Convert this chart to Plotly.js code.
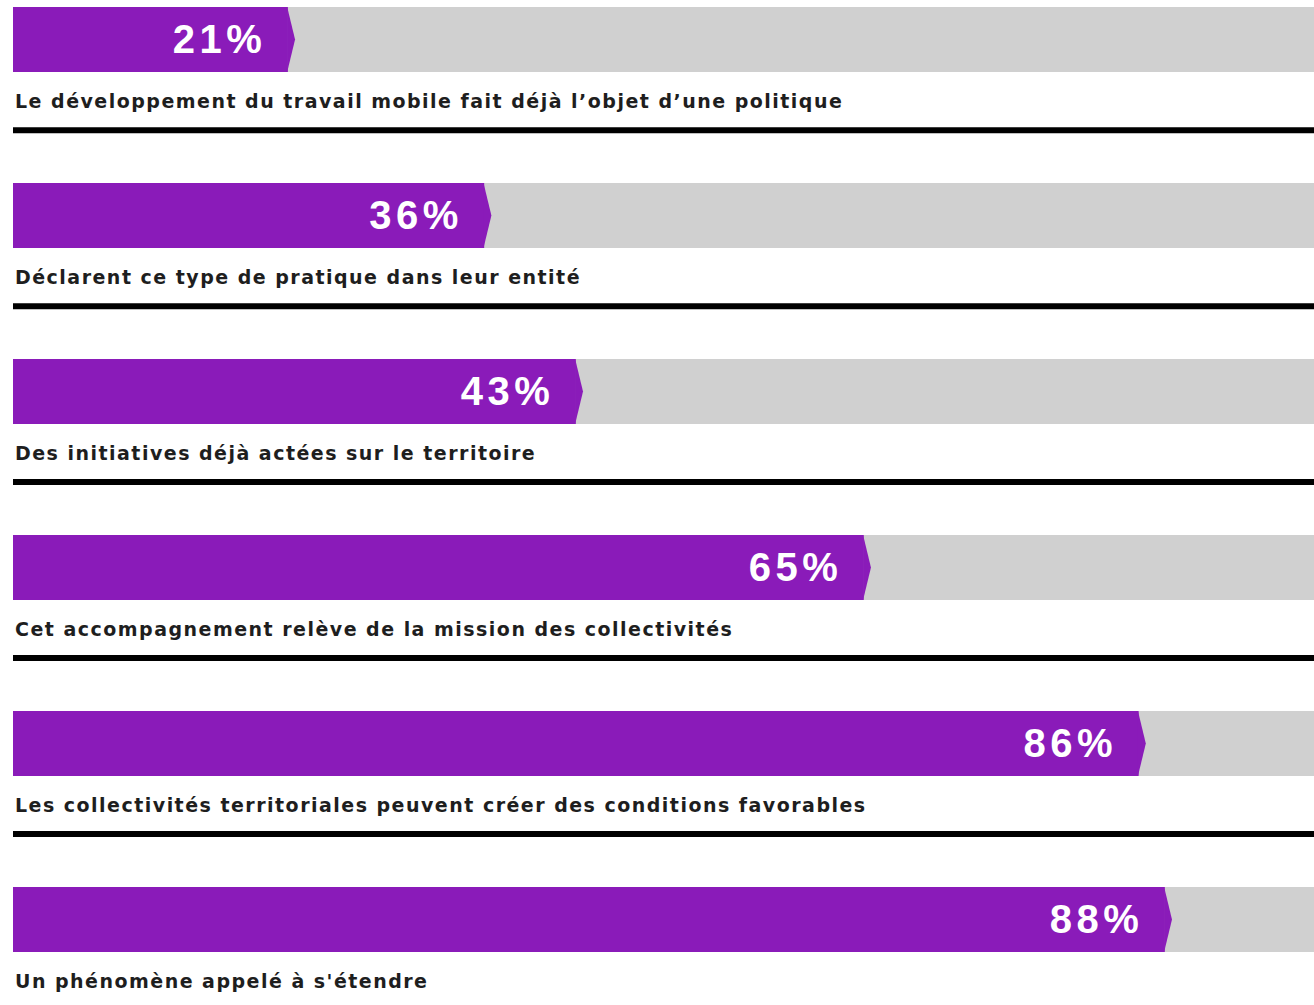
<!DOCTYPE html>
<html>
<head>
<meta charset="utf-8">
<script src="https://cdn.plot.ly/plotly-3.0.1.min.js"></script>
<style>
html,body{margin:0;padding:0;background:#fff;}
#chart{width:1314px;height:1005px;}
</style>
</head>
<body>
<div id="chart"></div>
<script>
const labels = [
  "Le développement du travail mobile fait déjà l’objet d’une politique",
  "Déclarent ce type de pratique dans leur entité",
  "Des initiatives déjà actées sur le territoire",
  "Cet accompagnement relève de la mission des collectivités",
  "Les collectivités territoriales peuvent créer des conditions favorables",
  "Un phénomène appelé à s'étendre"
];
const values = [21, 36, 43, 65, 86, 88];
const totals = [100, 100, 100, 100, 100, 100];

const purple = "#8A1BB9";
const gray = "#D0D0D0";
const rows = values.map((v, i) => i);
const barH = 0.37;
const tipW = 0.55;

const traces = [
  {type: "bar", orientation: "h", x: totals, y: rows, width: barH,
   marker: {color: gray}, hoverinfo: "skip"},
  {type: "bar", orientation: "h", x: values, y: rows, width: barH,
   marker: {color: purple}, hoverinfo: "skip"}
];

const shapes = [];
values.forEach((v, i) => {
  shapes.push({type: "path", xref: "x", yref: "y",
    path: `M ${v - 0.05} ${i - barH/2} L ${v + tipW} ${i} L ${v - 0.05} ${i + barH/2} Z`,
    fillcolor: purple, line: {width: 0}});
  if (i < values.length - 1) {
    shapes.push({type: "line", xref: "paper", yref: "y", x0: 0, x1: 1.01,
      y0: i + 0.515, y1: i + 0.515, line: {color: "#000", width: 6}});
  }
});

const annotations = [];
values.forEach((v, i) => {
  annotations.push({x: v, y: i, xref: "x", yref: "y", text: v + "%",
    showarrow: false, xanchor: "right", yanchor: "middle", xshift: -26, yshift: 0,
    font: {family: "Liberation Sans, Arial, sans-serif", size: 40, color: "#fff", weight: "bold"}});
  annotations.push({x: 0, y: i + 0.352, xref: "paper", yref: "y", text: labels[i],
    showarrow: false, xanchor: "left", yanchor: "middle", xshift: 0,
    font: {family: "DejaVu Sans, sans-serif", size: 19, color: "#1e1e1e", weight: "bold"}});
});

const layout = {
  width: 1314, height: 1005,
  margin: {l: 13, r: 0, t: 0, b: 0, pad: 0},
  paper_bgcolor: "#fff", plot_bgcolor: "#fff",
  barmode: "overlay", showlegend: false,
  xaxis: {range: [0, 99.4], visible: false, fixedrange: true},
  yaxis: {range: [5.486, -0.2244], visible: false, fixedrange: true},
  shapes: shapes, annotations: annotations
};

Plotly.newPlot("chart", traces, layout, {displayModeBar: false, staticPlot: true}).then(gd => {
  const xa = gd._fullLayout.xaxis;
  const host = gd.getBoundingClientRect();
  document.querySelectorAll(".annotation-text").forEach((t, k) => {
    const isPct = k % 2 === 0;
    const row = Math.floor(k / 2);
    const spacing = isPct ? 4.5 : 1.48;
    t.style.letterSpacing = spacing + "px";
    const r1 = t.getBoundingClientRect();
    let dx;
    if (isPct) {
      const target = host.left + xa._offset + xa.l2p(values[row]) - 26;
      dx = target - (r1.right - spacing);
    } else {
      dx = host.left + 15 - r1.left;
    }
    const x = parseFloat(t.getAttribute("x") || "0");
    t.setAttribute("x", x + dx);
  });
});
</script>
</body>
</html>
